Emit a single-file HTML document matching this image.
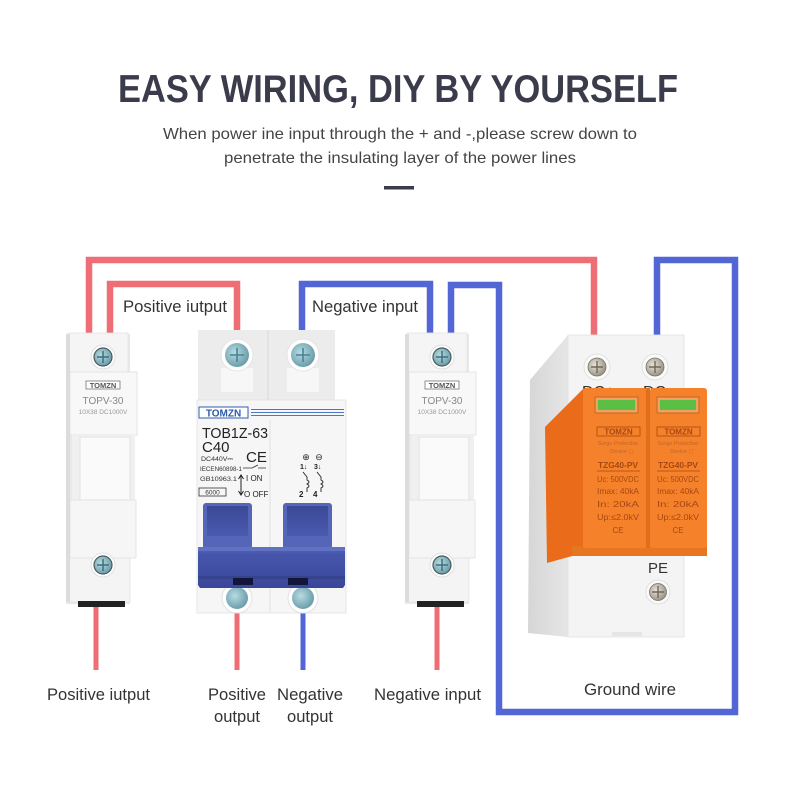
<!DOCTYPE html>
<html><head><meta charset="utf-8"><style>
html,body{margin:0;padding:0;background:#fff;}
svg{display:block;}
text{font-family:"Liberation Sans",Arial,sans-serif;}
</style></head><body>
<svg width="800" height="800" viewBox="0 0 800 800" xmlns="http://www.w3.org/2000/svg">
<defs>
<linearGradient id="gw" x1="0" y1="0" x2="0" y2="1"><stop offset="0" stop-color="#5a6ad8"/><stop offset="1" stop-color="#f06b73"/></linearGradient>
<linearGradient id="bar" x1="0" y1="0" x2="0" y2="1"><stop offset="0" stop-color="#5564b8"/><stop offset="0.2" stop-color="#4655ab"/><stop offset="1" stop-color="#3a4799"/></linearGradient>
<linearGradient id="hdl" x1="0" y1="0" x2="0" y2="1"><stop offset="0" stop-color="#3b4896"/><stop offset="1" stop-color="#4b5ab0"/></linearGradient>
<radialGradient id="scrT" cx="0.4" cy="0.4" r="0.7"><stop offset="0" stop-color="#b8dbe2"/><stop offset="1" stop-color="#5f95a3"/></radialGradient>
<radialGradient id="scrM" cx="0.4" cy="0.4" r="0.7"><stop offset="0" stop-color="#e9e4da"/><stop offset="1" stop-color="#8f887a"/></radialGradient>
<linearGradient id="spdSide" x1="0" y1="0" x2="1" y2="0"><stop offset="0" stop-color="#d6d6d6"/><stop offset="1" stop-color="#e6e6e6"/></linearGradient>
</defs>

<!-- Title -->
<text x="118" y="102" font-size="39" font-weight="bold" fill="#3b3c4b" textLength="560" lengthAdjust="spacingAndGlyphs">EASY WIRING, DIY BY YOURSELF</text>
<text x="163" y="139" font-size="16" fill="#444" textLength="474" lengthAdjust="spacingAndGlyphs">When power ine input through the + and -,please screw down to</text>
<text x="224" y="163" font-size="16" fill="#444" textLength="352" lengthAdjust="spacingAndGlyphs">penetrate the insulating layer of the power lines</text>
<rect x="384" y="186" width="30" height="3.5" fill="#3b3c4b"/>

<!-- Wires -->
<g fill="none" stroke-width="6.5" stroke-linejoin="miter">
<polyline points="89,336 89,260 594,260 594,338" stroke="#ef6d74"/>
<polyline points="110,336 110,284 237,284 237,332" stroke="#ef6d74"/>
<polyline points="302,332 302,284 430,284 430,336" stroke="#5266d6"/>
<polyline points="451,336 451,285 499,285 499,712 735,712 735,260 657,260 657,338" stroke="#5266d6"/>
</g>
<g stroke-width="5">
<line x1="96" y1="605" x2="96" y2="670" stroke="#ef6d74"/>
<line x1="237" y1="610" x2="237" y2="670" stroke="#ef6d74"/>
<line x1="303" y1="610" x2="303" y2="670" stroke="#5266d6"/>
<line x1="437" y1="605" x2="437" y2="670" stroke="#ef6d74"/>
<line x1="628" y1="636" x2="628" y2="672" stroke="url(#gw)"/>
</g>

<!-- Labels -->
<g fill="#333" font-size="17">
<text x="123" y="312" textLength="104" lengthAdjust="spacingAndGlyphs">Positive iutput</text>
<text x="312" y="312" textLength="106" lengthAdjust="spacingAndGlyphs">Negative input</text>
<text x="47" y="700" textLength="103" lengthAdjust="spacingAndGlyphs">Positive iutput</text>
<text x="208" y="700" textLength="58" lengthAdjust="spacingAndGlyphs">Positive</text>
<text x="214" y="722" textLength="46" lengthAdjust="spacingAndGlyphs">output</text>
<text x="277" y="700" textLength="66" lengthAdjust="spacingAndGlyphs">Negative</text>
<text x="287" y="722" textLength="46" lengthAdjust="spacingAndGlyphs">output</text>
<text x="374" y="700" textLength="107" lengthAdjust="spacingAndGlyphs">Negative input</text>
<text x="584" y="695" textLength="92" lengthAdjust="spacingAndGlyphs">Ground wire</text>
</g>

<!-- Fuse holder template -->
<g id="fuse1">
<rect x="66" y="334" width="64" height="270" fill="#e9e9e9"/>
<rect x="68" y="333" width="60" height="40" fill="#f5f5f5" stroke="#e3e3e3" stroke-width="0.8"/>
<rect x="70" y="372" width="67" height="63" fill="#f8f8f8" stroke="#dedede" stroke-width="0.8"/>
<rect x="72" y="435" width="63" height="67" fill="#f0f0f0"/>
<rect x="80" y="437" width="50" height="63" fill="#fafafa" stroke="#e2e2e2" stroke-width="1"/>
<rect x="70" y="500" width="66" height="58" fill="#f6f6f6" stroke="#e0e0e0" stroke-width="0.8"/>
<rect x="68" y="558" width="62" height="44" fill="#f4f4f4" stroke="#e3e3e3" stroke-width="0.8"/>
<rect x="66" y="334" width="4" height="268" fill="#dcdcdc"/>
<rect x="78" y="601" width="47" height="6" fill="#222"/>
<circle cx="103" cy="357" r="12" fill="#fff" stroke="#e0e0e0"/>
<circle cx="103" cy="357" r="9" fill="url(#scrT)" stroke="#4a5a5e" stroke-width="1.2"/>
<path d="M97 357h12M103 351v12" stroke="#3f6f7a" stroke-width="1.5"/>
<circle cx="103" cy="565" r="12" fill="#fff" stroke="#e0e0e0"/>
<circle cx="103" cy="565" r="9" fill="url(#scrT)" stroke="#4a5a5e" stroke-width="1.2"/>
<path d="M97 565h12M103 559v12" stroke="#3f6f7a" stroke-width="1.5"/>
<rect x="86" y="381" width="34" height="8" fill="#fff" stroke="#777" stroke-width="0.8"/>
<text x="103" y="388" font-size="7.5" font-weight="bold" fill="#555" text-anchor="middle" font-family="Liberation Serif,serif">TOMZN</text>
<text x="103" y="404" font-size="10" fill="#888" text-anchor="middle">TOPV-30</text>
<text x="103" y="414" font-size="6.5" fill="#999" text-anchor="middle">10X38 DC1000V</text>
</g>
<use href="#fuse1" transform="translate(339,0)"/>

<!-- Breaker -->
<g>
<rect x="198" y="330" width="137" height="72" fill="#ececec"/>
<line x1="268" y1="330" x2="268" y2="400" stroke="#d8d8d8"/>
<rect x="221" y="368" width="32" height="24" fill="#f7f7f7"/>
<rect x="287" y="368" width="32" height="24" fill="#f7f7f7"/>
<circle cx="237" cy="355" r="16" fill="#fff" stroke="#e4e4e4"/>
<circle cx="237" cy="355" r="12" fill="url(#scrT)"/>
<path d="M230 355h14M237 348v14" stroke="#4b8392" stroke-width="1.6"/>
<circle cx="303" cy="355" r="16" fill="#fff" stroke="#e4e4e4"/>
<circle cx="303" cy="355" r="12" fill="url(#scrT)"/>
<path d="M296 355h14M303 348v14" stroke="#4b8392" stroke-width="1.6"/>
<rect x="197" y="400" width="149" height="213" fill="#f6f6f6" stroke="#e2e2e2" stroke-width="0.8"/>
<line x1="270" y1="420" x2="270" y2="612" stroke="#e0e0e0"/>
<rect x="199" y="407" width="49" height="11" fill="#fff" stroke="#2f5fae" stroke-width="1"/>
<text x="223.5" y="416.5" font-size="10" font-weight="bold" fill="#2a5aa8" text-anchor="middle" font-family="Liberation Serif,serif">TOMZN</text>
<path d="M251 409.5H344M251 412.5H344M251 415.5H344" stroke="#4a78c4" stroke-width="1.1"/>
<text x="202" y="438" font-size="15" fill="#222" textLength="66" lengthAdjust="spacingAndGlyphs">TOB1Z-63</text>
<text x="202" y="452" font-size="15" fill="#222">C40</text>
<text x="246" y="462" font-size="15" fill="#222" textLength="21" lengthAdjust="spacingAndGlyphs">CE</text>
<text x="201" y="461" font-size="6.5" fill="#333" textLength="32" lengthAdjust="spacingAndGlyphs">DC440V⎓</text>
<text x="200" y="471" font-size="6.5" fill="#333" textLength="42" lengthAdjust="spacingAndGlyphs">IECEN60898-1</text>
<path d="M243 468h9l6 -3M258 468h8" stroke="#333" stroke-width="0.8" fill="none"/>
<text x="200" y="481" font-size="6.5" fill="#333" textLength="37" lengthAdjust="spacingAndGlyphs">GB10963.1</text>
<path d="M241 476v18M238.5 479l2.5-4 2.5 4M238.5 491l2.5 4 2.5-4" stroke="#222" stroke-width="1" fill="none"/>
<text x="246" y="481" font-size="8" fill="#222">I ON</text>
<text x="244" y="497" font-size="8" fill="#222">O OFF</text>
<rect x="199" y="488" width="27" height="8" fill="none" stroke="#333" stroke-width="0.8"/>
<text x="212.5" y="494.5" font-size="6.5" fill="#333" text-anchor="middle">6000</text>
<text x="306" y="460" font-size="9" fill="#222" text-anchor="middle">⊕</text>
<text x="319" y="460" font-size="9" fill="#222" text-anchor="middle">⊖</text>
<text x="300" y="469" font-size="7" font-weight="bold" fill="#222">1↓</text>
<text x="314" y="469" font-size="7" font-weight="bold" fill="#222">3↓</text>
<path d="M303 472l4 5v3q4 2 0 4q4 2 0 4v4M317 472l4 5v3q4 2 0 4q4 2 0 4v4" stroke="#222" stroke-width="0.9" fill="none"/>
<text x="299" y="497" font-size="8" font-weight="bold" fill="#222">2</text>
<text x="313" y="497" font-size="8" font-weight="bold" fill="#222">4</text>
<!-- bottom screws -->
<circle cx="237" cy="598" r="15" fill="#fff" stroke="#e2e2e2"/>
<circle cx="237" cy="598" r="11" fill="url(#scrT)"/>
<circle cx="303" cy="598" r="15" fill="#fff" stroke="#e2e2e2"/>
<circle cx="303" cy="598" r="11" fill="url(#scrT)"/>
<!-- handles -->
<rect x="203" y="503" width="49" height="46" rx="3" fill="#5565b8"/>
<rect x="207" y="506" width="41" height="30" fill="url(#hdl)"/>
<rect x="283" y="503" width="49" height="46" rx="3" fill="#5565b8"/>
<rect x="287" y="506" width="41" height="30" fill="url(#hdl)"/>
<path d="M198 547H345V585L343 588H200L198 585Z" fill="url(#bar)"/>
<rect x="198" y="547" width="147" height="4" fill="#6272c2"/>
<rect x="198" y="576" width="147" height="3" fill="#36428c"/>
<rect x="233" y="578" width="20" height="7" fill="#12163a"/>
<rect x="288" y="578" width="20" height="7" fill="#12163a"/>
</g>

<!-- SPD -->
<g>
<polygon points="568,335 530,380 528,633 568,637" fill="url(#spdSide)"/>
<rect x="568" y="335" width="116" height="302" fill="#f4f4f4"/>
<rect x="568" y="335" width="116" height="302" fill="none" stroke="#e2e2e2" stroke-width="0.8"/>
<circle cx="597" cy="367" r="13" fill="#fafafa" stroke="#e0e0e0"/>
<circle cx="597" cy="367" r="9" fill="url(#scrM)" stroke="#7a7366" stroke-width="0.8"/>
<path d="M591 367h12M597 361v12" stroke="#6e675a" stroke-width="1.4"/>
<circle cx="655" cy="367" r="13" fill="#fafafa" stroke="#e0e0e0"/>
<circle cx="655" cy="367" r="9" fill="url(#scrM)" stroke="#7a7366" stroke-width="0.8"/>
<path d="M649 367h12M655 361v12" stroke="#6e675a" stroke-width="1.4"/>
<text x="582" y="397" font-size="16" fill="#333">DC+</text>
<text x="643" y="397" font-size="16" fill="#333">DC-</text>
<!-- orange -->
<polygon points="545,427 583,389 583,553 547,563" fill="#ea6c1a"/>
<rect x="572" y="546" width="135" height="10" fill="#e8751f"/>
<rect x="583" y="388" width="64" height="160" rx="3" fill="#f5822b"/>
<rect x="650" y="388" width="57" height="160" rx="3" fill="#f5822b"/>
<rect x="646" y="388" width="4" height="160" fill="#e06f1c"/>
<rect x="595" y="397" width="43" height="16" fill="#f0a060" stroke="#c9651e"/>
<rect x="598" y="400" width="37" height="10" fill="#5cbf45"/>
<rect x="657" y="397" width="42" height="16" fill="#f0a060" stroke="#c9651e"/>
<rect x="660" y="400" width="36" height="10" fill="#5cbf45"/>
<g fill="#a84712" text-anchor="middle">
<rect x="597" y="427" width="43" height="9" fill="none" stroke="#a84712" stroke-width="0.8"/>
<text x="618.5" y="434.5" font-size="8" font-weight="bold" font-family="Liberation Serif,serif">TOMZN</text>
<text x="618" y="445" font-size="5.5" fill="#c0652a">Surge Protective</text>
<text x="622" y="453" font-size="5.5" fill="#c0652a">Device ▢</text>
<text x="618" y="468" font-size="8.5" font-weight="bold" textLength="40" lengthAdjust="spacingAndGlyphs">TZG40-PV</text>
<line x1="597" y1="471" x2="640" y2="471" stroke="#a84712" stroke-width="0.8"/>
<text x="618" y="482" font-size="8.5" textLength="42" lengthAdjust="spacingAndGlyphs">Uc: 500VDC</text>
<text x="618" y="494" font-size="8.5" textLength="42" lengthAdjust="spacingAndGlyphs">Imax: 40kA</text>
<text x="618" y="507" font-size="8.5" textLength="42" lengthAdjust="spacingAndGlyphs">In:    20kA</text>
<text x="618" y="520" font-size="8.5" textLength="42" lengthAdjust="spacingAndGlyphs">Up:≤2.0kV</text>
<text x="618" y="533" font-size="8">CE</text>
<rect x="657" y="427" width="43" height="9" fill="none" stroke="#a84712" stroke-width="0.8"/>
<text x="678.5" y="434.5" font-size="8" font-weight="bold" font-family="Liberation Serif,serif">TOMZN</text>
<text x="678" y="445" font-size="5.5" fill="#c0652a">Surge Protective</text>
<text x="682" y="453" font-size="5.5" fill="#c0652a">Device ▢</text>
<text x="678" y="468" font-size="8.5" font-weight="bold" textLength="40" lengthAdjust="spacingAndGlyphs">TZG40-PV</text>
<line x1="657" y1="471" x2="700" y2="471" stroke="#a84712" stroke-width="0.8"/>
<text x="678" y="482" font-size="8.5" textLength="42" lengthAdjust="spacingAndGlyphs">Uc: 500VDC</text>
<text x="678" y="494" font-size="8.5" textLength="42" lengthAdjust="spacingAndGlyphs">Imax: 40kA</text>
<text x="678" y="507" font-size="8.5" textLength="42" lengthAdjust="spacingAndGlyphs">In:    20kA</text>
<text x="678" y="520" font-size="8.5" textLength="42" lengthAdjust="spacingAndGlyphs">Up:≤2.0kV</text>
<text x="678" y="533" font-size="8">CE</text>
</g>
<text x="658" y="573" font-size="15" fill="#333" text-anchor="middle">PE</text>
<circle cx="658" cy="592" r="12" fill="#fafafa" stroke="#e0e0e0"/>
<circle cx="658" cy="592" r="8.5" fill="url(#scrM)" stroke="#7a7366" stroke-width="0.8"/>
<path d="M652 592h12M658 586v12" stroke="#6e675a" stroke-width="1.4"/>
<rect x="612" y="632" width="30" height="4" fill="#e6e6e6"/>
</g>
</svg>
</body></html>
